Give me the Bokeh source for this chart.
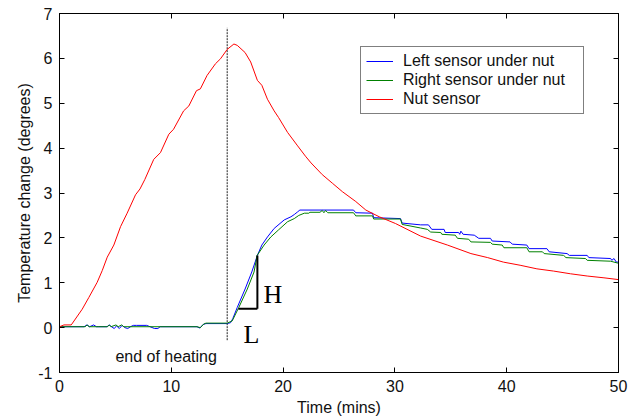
from bokeh.plotting import figure
from bokeh.models import Range1d, LinearAxis, Legend, LegendItem, FixedTicker, Label
from bokeh.embed import file_html
from bokeh.resources import INLINE

# ---------------- data ----------------
x_ticks = [0, 10, 20, 30, 40, 50]
y_ticks = [-1, 0, 1, 2, 3, 4, 5, 6, 7]
y_tick_labels = {-1: "-1"}

nut_t = [0, 0.4, 1.05, 2.03, 2.62, 3.37, 3.82, 4.27, 4.86, 5.46, 6.05, 6.8, 7.2, 7.63,
         8.43, 9.03, 9.78, 10.2, 11.1, 11.57, 12.25, 12.6, 13.2, 13.95, 14.4, 15.0,
         15.6, 15.9, 16.6, 17.1, 17.7, 18.1, 18.6, 19.2, 19.6, 20.4, 21.3, 22.0, 22.5,
         23.5, 24.4, 25.3, 26.5, 27.4, 28.6, 30.05, 32.3, 34.7, 36.8, 38.3, 39.7, 41.2,
         42.7, 44.2, 45.7, 47.2, 48.7, 50.0]
nut_v = [0.02, 0.06, 0.06, 0.41, 0.67, 1.01, 1.27, 1.57, 1.84, 2.25, 2.55, 2.96, 3.09, 3.30,
         3.75, 3.90, 4.31, 4.42, 4.83, 4.94, 5.28, 5.32, 5.62, 5.88, 5.99, 6.20,
         6.32, 6.29, 6.13, 5.92, 5.51, 5.40, 5.09, 4.83, 4.68, 4.35, 4.05, 3.82, 3.67,
         3.41, 3.22, 3.03, 2.81, 2.62, 2.47, 2.32, 2.04, 1.84, 1.65, 1.56, 1.46, 1.39,
         1.31, 1.26, 1.20, 1.15, 1.11, 1.07]

left_t = [0, 2.2, 2.45, 2.7, 3.05, 3.3, 3.5, 4.25, 4.45, 4.65, 4.9, 5.1, 5.35, 5.6, 5.85,
          6.1, 6.35, 6.6, 6.9, 7.8, 8.1, 8.5, 8.8, 9.0, 12.3, 12.55, 12.85, 13.1, 15.0,
          15.3, 15.5, 15.9, 16.6, 17.2, 17.7, 18.1, 18.6, 19.2, 20.1, 20.7, 21.0, 21.3,
          21.5, 26.3, 26.5, 28.0, 28.1, 30.5, 30.65, 32.3, 33.0, 33.3, 34.4, 34.5, 35.7,
          35.8, 35.9, 36.1, 37.1, 37.5, 38.55, 38.7, 40.3, 40.5, 41.8, 42.0, 43.6, 43.8,
          45.4, 45.6, 47.2, 47.35, 49.3, 49.4, 49.6, 49.8, 50.0]
left_v = [0.02, 0.02, 0.06, 0.02, 0.06, 0.02, 0.02, 0.02, 0.06, 0.02, -0.02, 0.04, -0.02, 0.05, 0.0,
          -0.02, 0.02, 0.05, 0.05, 0.05, 0.02, -0.02, -0.02, 0.02, 0.02, -0.01, 0.07, 0.09, 0.09,
          0.11, 0.20, 0.45, 0.86, 1.24, 1.61, 1.84, 2.02, 2.21, 2.40, 2.47, 2.52, 2.58,
          2.62, 2.62, 2.56, 2.55, 2.45, 2.43, 2.33, 2.29, 2.29, 2.19, 2.19, 2.12, 2.12,
          2.08, 2.15, 2.08, 2.06, 1.99, 1.99, 1.93, 1.91, 1.86, 1.84, 1.76, 1.76, 1.69,
          1.65, 1.61, 1.61, 1.56, 1.54, 1.50, 1.54, 1.46, 1.46]

right_t = [0, 2.3, 2.47, 2.65, 4.3, 4.45, 4.6, 5.05, 5.25, 5.55, 5.75, 12.3, 12.6, 12.9, 13.1,
           15.0, 15.45, 16.04, 16.8, 17.4, 17.68, 18.3, 18.9, 19.6, 20.4, 21.0, 21.4, 21.9,
           22.3, 22.4, 23.3, 23.5, 23.65, 23.8, 24.0, 26.3, 26.5, 28.0, 28.1, 30.5, 30.65,
           32.3, 32.9, 33.2, 34.1, 34.2, 35.4, 35.6, 36.6, 36.8, 38.55, 38.7, 39.6, 39.75,
           41.8, 42.0, 43.2, 43.35, 45.1, 45.3, 47.05, 47.2, 49.3, 49.9, 50.0]
right_v = [0.02, 0.02, 0.06, 0.02, 0.02, 0.06, 0.02, 0.06, 0.02, 0.06, 0.02, 0.02, 0.0, 0.08, 0.10,
           0.10, 0.15, 0.45, 0.86, 1.24, 1.61, 1.84, 2.02, 2.18, 2.36, 2.43, 2.50, 2.55,
           2.55, 2.57, 2.57, 2.61, 2.56, 2.61, 2.56, 2.56, 2.49, 2.49, 2.42, 2.42, 2.30,
           2.22, 2.19, 2.13, 2.12, 2.08, 2.06, 1.99, 1.97, 1.91, 1.90, 1.86, 1.84, 1.78,
           1.78, 1.69, 1.69, 1.65, 1.61, 1.56, 1.54, 1.50, 1.48, 1.44, 1.43]

heating_end = 15.0
heating_line_y = [-0.28, 6.68]

L_x = [16.0, 17.7]
L_y = [0.42, 0.42]
H_x = [17.7, 17.7]
H_y = [0.42, 1.61]

labels = ["Left sensor under nut", "Right sensor under nut", "Nut sensor"]

# ---------------- figure ----------------
FONT = "Liberation Sans"
p = figure(width=640, height=419, output_backend="svg", toolbar_location=None,
           x_range=Range1d(0, 50), y_range=Range1d(-1, 7),
           min_border_left=59, min_border_right=22, min_border_top=13, min_border_bottom=47)
p.xgrid.visible = False
p.ygrid.visible = False
p.outline_line_color = "black"
p.outline_line_width = 1
p.background_fill_color = "white"
p.border_fill_color = "white"

p.xaxis.ticker = FixedTicker(ticks=x_ticks)
p.yaxis.ticker = FixedTicker(ticks=y_ticks)
p.yaxis.major_label_overrides = y_tick_labels
p.xaxis.axis_label = "Time (mins)"
p.yaxis.axis_label = "Temperature change (degrees)"
for ax in (p.xaxis[0], p.yaxis[0]):
    ax.major_tick_in = 5
    ax.major_tick_out = 0
    ax.minor_tick_line_color = None
    ax.axis_line_color = "black"
    ax.major_tick_line_color = "black"
    ax.major_label_text_font = FONT
    ax.major_label_text_font_size = "16px"
    ax.major_label_text_color = "#111111"
    ax.axis_label_text_font = FONT
    ax.axis_label_text_font_size = "16px"
    ax.axis_label_text_font_style = "normal"
    ax.axis_label_text_color = "#111111"
p.xaxis.major_label_standoff = 7
p.xaxis.axis_label_standoff = 4
p.yaxis.major_label_standoff = 7
p.yaxis.axis_label_standoff = 2

top_ax = LinearAxis(ticker=FixedTicker(ticks=x_ticks), major_tick_in=5, major_tick_out=0,
                    minor_tick_line_color=None, major_label_text_color=None,
                    major_label_text_font_size="10px",
                    major_label_standoff=0, axis_line_color="black")
right_ax = LinearAxis(ticker=FixedTicker(ticks=y_ticks), major_tick_in=5, major_tick_out=0,
                      minor_tick_line_color=None, major_label_text_color=None,
                      major_label_text_font_size="10px",
                      major_label_standoff=0, axis_line_color="black")
p.add_layout(top_ax, "above")
p.add_layout(right_ax, "right")

# end-of-heating marker
p.line([heating_end, heating_end], heating_line_y, line_color="#222222",
       line_width=1, line_dash="2 1")

r_left = p.line(left_t, left_v, line_color="#0000ff", line_width=1)
r_right = p.line(right_t, right_v, line_color="#008000", line_width=1)
r_nut = p.line(nut_t, nut_v, line_color="#ff0000", line_width=1)

# H / L triangle
p.line(L_x, L_y, line_color="black", line_width=2)
p.line(H_x, H_y, line_color="black", line_width=2)

p.add_layout(Label(x=18.25, y=0.73, text="H", text_font="Liberation Serif",
                   text_font_size="26px", text_color="black", text_baseline="alphabetic"))
p.add_layout(Label(x=16.45, y=-0.15, text="L", text_font="Liberation Serif",
                   text_font_size="26px", text_color="black", text_baseline="alphabetic"))
p.add_layout(Label(x=5.0, y=-0.64, text="end of heating", text_font=FONT,
                   text_font_size="16px", text_color="#111111", text_baseline="alphabetic"))

legend = Legend(items=[LegendItem(label=labels[0], renderers=[r_left]),
                       LegendItem(label=labels[1], renderers=[r_right]),
                       LegendItem(label=labels[2], renderers=[r_nut])],
                location=(301, 258), padding=5, spacing=1, margin=0,
                glyph_width=27, glyph_height=18, label_height=18, label_standoff=10,
                label_width=175,
                label_text_font=FONT, label_text_font_size="16px",
                label_text_color="#111111",
                border_line_color="black", border_line_width=1,
                background_fill_color="white", background_fill_alpha=1.0)
p.add_layout(legend, "center")

open("out.html", "w").write(file_html(p, INLINE))
